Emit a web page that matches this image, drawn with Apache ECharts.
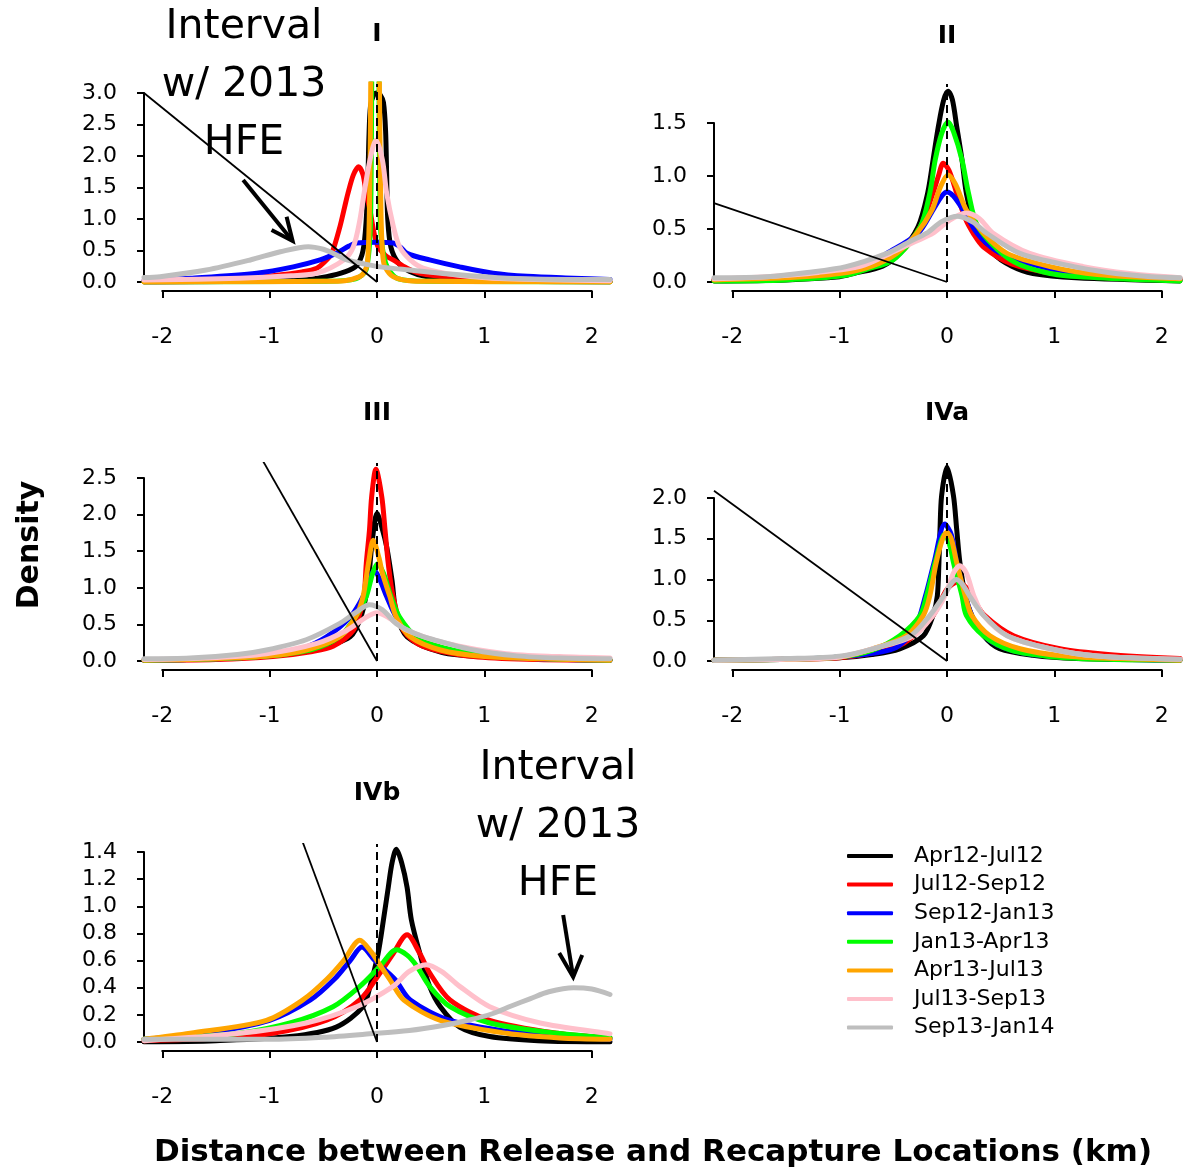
<!DOCTYPE html>
<html><head><meta charset="utf-8">
<script src="https://cdn.jsdelivr.net/npm/echarts@6/dist/echarts.min.js"></script>
<style>html,body{margin:0;padding:0;background:#fff}#c{width:1189px;height:1173px}</style>
</head><body><div id="c"></div>
<script>
const periods = ['Apr12-Jul12','Jul12-Sep12','Sep12-Jan13','Jan13-Apr13','Apr13-Jul13','Jul13-Sep13','Sep13-Jan14'];
const colors  = ['#000000','#FF0000','#0000FF','#00FF00','#FFA500','#FFC0CB','#BEBEBE'];
const xTicks = [-2,-1,0,1,2];
const panelTitles = ['I','II','III','IVa','IVb'];
const xLabel = 'Distance between Release and Recapture Locations (km)';
const yLabel = 'Density';
const noteText = 'Interval\nw/ 2013\nHFE';

// ---- Panel I ----
const I_black = [[-2.17,0],[-1.2,0.01],[-0.7,0.03],[-0.47,0.085],[-0.3,0.16],[-0.19,0.26],[-0.13,0.5],[-0.1,1.0],[-0.085,1.6],[-0.075,2.3],[-0.06,2.8],[-0.03,2.97],[0,3.0],[0.03,2.97],[0.06,2.85],[0.08,2.4],[0.09,1.7],[0.1,1.0],[0.13,0.55],[0.2,0.3],[0.3,0.17],[0.46,0.085],[0.8,0.03],[1.3,0.01],[2.17,0]];
const I_red = [[-2.17,0],[-1.5,0.02],[-0.97,0.1],[-0.7,0.16],[-0.56,0.22],[-0.47,0.35],[-0.42,0.46],[-0.345,0.88],[-0.3,1.2],[-0.27,1.41],[-0.22,1.7],[-0.17,1.83],[-0.13,1.7],[-0.1,1.4],[-0.065,1.14],[-0.03,0.8],[0.01,0.56],[0.08,0.42],[0.15,0.35],[0.28,0.22],[0.4,0.14],[0.7,0.07],[1.0,0.04],[1.5,0.015],[2.17,0.005]];
const I_blue = [[-2.17,0.02],[-1.74,0.06],[-1.12,0.14],[-0.78,0.24],[-0.53,0.35],[-0.38,0.455],[-0.26,0.57],[-0.19,0.62],[0,0.63],[0.15,0.62],[0.22,0.55],[0.28,0.455],[0.49,0.35],[0.77,0.24],[1.08,0.14],[1.4,0.09],[1.83,0.06],[2.17,0.04]];
const I_green = [[-2.17,0],[-0.5,0.01],[-0.2,0.05],[-0.1,0.2],[-0.06,1],[-0.045,5],[-0.015,10],[0.015,5],[0.03,1],[0.08,0.3],[0.2,0.05],[0.5,0.01],[2.17,0]];
const I_orange = [[-2.17,0],[-1,0.005],[-0.5,0.01],[-0.3,0.02],[-0.16,0.085],[-0.12,0.15],[-0.09,0.3],[-0.075,0.8],[-0.065,1.8],[-0.058,3.2],[-0.045,6],[-0.015,12],[0.015,6],[0.022,3.2],[0.03,1.9],[0.04,0.9],[0.055,0.4],[0.075,0.24],[0.15,0.085],[0.3,0.02],[0.5,0.01],[1,0.005],[2.17,0]];
const I_pink = [[-2.17,0.03],[-1.28,0.06],[-0.8,0.1],[-0.56,0.14],[-0.31,0.35],[-0.22,0.56],[-0.16,0.98],[-0.12,1.41],[-0.065,1.94],[-0.01,2.25],[0.05,1.94],[0.09,1.41],[0.15,0.9],[0.21,0.56],[0.31,0.35],[0.43,0.22],[0.74,0.11],[1.2,0.05],[2.17,0.02]];
const I_grey = [[-2.17,0.07],[-2.02,0.085],[-1.59,0.19],[-1.18,0.35],[-0.9,0.48],[-0.64,0.56],[-0.5,0.52],[-0.41,0.455],[-0.28,0.35],[-0.1,0.28],[0.03,0.24],[0.3,0.19],[0.59,0.14],[1.21,0.06],[2,0.04],[2.17,0.04]];
const I_diag = [[-2.17,3.0],[0,0]];
const I_arrowShaft = [[-1.247,1.619],[-0.786,0.651]];
const I_arrowHead = [[-0.982,0.825],[-0.786,0.651],[-0.842,1.037]];

// ---- Panel II ----
const II_black = [[-2.17,0.01],[-1.5,0.02],[-1,0.05],[-0.87,0.08],[-0.6,0.15],[-0.44,0.27],[-0.27,0.52],[-0.18,0.84],[-0.13,1.15],[-0.08,1.47],[-0.03,1.72],[0.01,1.8],[0.05,1.72],[0.09,1.47],[0.14,1.15],[0.18,0.84],[0.26,0.52],[0.43,0.27],[0.6,0.15],[0.8,0.08],[1.2,0.04],[2.17,0.01]];
const II_red = [[-2.17,0.02],[-1.5,0.04],[-1,0.08],[-0.7,0.15],[-0.44,0.27],[-0.25,0.52],[-0.13,0.84],[-0.08,1.0],[-0.035,1.12],[0.02,1.05],[0.09,0.84],[0.17,0.6],[0.25,0.45],[0.34,0.33],[0.6,0.17],[1,0.08],[1.5,0.04],[2.17,0.02]];
const II_blue = [[-2.17,0.02],[-1.5,0.05],[-1,0.1],[-0.75,0.16],[-0.56,0.27],[-0.27,0.46],[-0.13,0.68],[-0.05,0.81],[0,0.85],[0.06,0.81],[0.15,0.68],[0.28,0.46],[0.45,0.3],[0.65,0.21],[1.05,0.11],[1.5,0.06],[2.17,0.03]];
const II_green = [[-2.17,0.01],[-1.5,0.02],[-0.96,0.06],[-0.75,0.12],[-0.5,0.21],[-0.25,0.52],[-0.16,0.84],[-0.11,1.15],[-0.05,1.4],[0.01,1.51],[0.06,1.42],[0.14,1.15],[0.2,0.84],[0.29,0.52],[0.59,0.21],[0.96,0.08],[1.4,0.04],[2.17,0.01]];
const II_orange = [[-2.17,0.02],[-1.5,0.04],[-1,0.08],[-0.7,0.15],[-0.47,0.27],[-0.28,0.46],[-0.14,0.68],[-0.06,0.9],[0.01,1.01],[0.08,0.92],[0.18,0.68],[0.34,0.46],[0.56,0.27],[0.96,0.145],[1.4,0.07],[2.17,0.03]];
const II_pink = [[-2.17,0.03],[-1.68,0.05],[-1.2,0.09],[-0.8,0.15],[-0.53,0.27],[-0.3,0.38],[-0.13,0.46],[0.02,0.58],[0.18,0.65],[0.3,0.6],[0.43,0.46],[0.77,0.27],[1.27,0.145],[1.7,0.08],[2.17,0.04]];
const II_grey = [[-2.17,0.04],[-1.68,0.05],[-1.3,0.09],[-0.94,0.145],[-0.56,0.27],[-0.35,0.38],[-0.19,0.46],[-0.05,0.57],[0.1,0.62],[0.25,0.56],[0.37,0.46],[0.68,0.27],[1.18,0.145],[1.5,0.09],[1.9,0.05],[2.17,0.04]];
const II_diag = [[-2.17,0.745],[0,0]];

// ---- Panel III ----
const III_black = [[-2.17,0.01],[-1.5,0.03],[-1,0.07],[-0.6,0.15],[-0.25,0.33],[-0.14,0.65],[-0.08,1.1],[-0.05,1.56],[0,2.02],[0.05,1.8],[0.09,1.56],[0.14,1.1],[0.18,0.65],[0.28,0.33],[0.6,0.12],[1,0.06],[2.17,0.01]];
const III_red = [[-2.17,0.01],[-1.5,0.02],[-0.97,0.06],[-0.6,0.13],[-0.41,0.2],[-0.22,0.42],[-0.15,0.7],[-0.12,0.88],[-0.1,1.33],[-0.07,1.79],[-0.05,2.24],[-0.01,2.62],[0.045,2.24],[0.075,1.79],[0.105,1.33],[0.15,0.88],[0.245,0.42],[0.43,0.2],[0.9,0.06],[1.5,0.02],[2.17,0.01]];
const III_blue = [[-2.17,0.01],[-1.5,0.03],[-1,0.08],[-0.7,0.17],[-0.47,0.33],[-0.25,0.6],[-0.13,0.88],[-0.06,1.15],[-0.025,1.24],[0.03,1.1],[0.09,0.88],[0.18,0.6],[0.34,0.33],[0.6,0.16],[1,0.07],[1.5,0.03],[2.17,0.01]];
const III_green = [[-2.17,0.01],[-1.5,0.03],[-1,0.07],[-0.6,0.16],[-0.35,0.33],[-0.2,0.6],[-0.1,0.88],[-0.04,1.2],[0.005,1.33],[0.06,1.2],[0.13,0.88],[0.21,0.6],[0.37,0.33],[0.7,0.15],[1.1,0.07],[1.6,0.03],[2.17,0.01]];
const III_orange = [[-2.17,0.01],[-1.5,0.03],[-1,0.07],[-0.66,0.15],[-0.35,0.33],[-0.2,0.6],[-0.13,0.88],[-0.08,1.33],[-0.035,1.65],[0.02,1.4],[0.05,1.2],[0.12,0.88],[0.18,0.6],[0.31,0.33],[0.59,0.15],[1,0.06],[1.5,0.03],[2.17,0.01]];
const III_pink = [[-2.17,0.02],[-1.6,0.04],[-1.03,0.1],[-0.56,0.24],[-0.28,0.42],[-0.1,0.6],[0,0.66],[0.1,0.6],[0.28,0.42],[0.65,0.24],[1.2,0.1],[1.7,0.06],[2.17,0.04]];
const III_grey = [[-2.17,0.03],[-1.74,0.04],[-1.3,0.09],[-1.03,0.15],[-0.66,0.29],[-0.35,0.51],[-0.2,0.66],[-0.07,0.77],[0.05,0.7],[0.18,0.51],[0.35,0.38],[0.53,0.29],[0.9,0.15],[1.3,0.07],[1.7,0.04],[2.17,0.03]];
const III_diag = [[-1.061,2.73],[0,0]];

// ---- Panel IVa ----
const IVa_black = [[-2.17,0.01],[-1.5,0.02],[-1,0.04],[-0.7,0.08],[-0.44,0.15],[-0.22,0.31],[-0.13,0.56],[-0.09,0.8],[-0.075,1.21],[-0.065,1.62],[-0.05,2.03],[0,2.38],[0.06,2.03],[0.09,1.62],[0.12,1.21],[0.17,0.8],[0.23,0.56],[0.34,0.31],[0.49,0.15],[0.8,0.07],[1.2,0.03],[2.17,0.01]];
const IVa_red = [[-2.17,0.01],[-1.5,0.02],[-1,0.04],[-0.69,0.1],[-0.4,0.22],[-0.13,0.56],[0,0.88],[0.1,0.97],[0.18,0.9],[0.25,0.75],[0.35,0.56],[0.62,0.31],[1.05,0.15],[1.5,0.08],[2.17,0.03]];
const IVa_blue = [[-2.17,0.01],[-1.5,0.02],[-1,0.05],[-0.5,0.15],[-0.3,0.4],[-0.2,0.8],[-0.12,1.21],[-0.02,1.68],[0.04,1.55],[0.09,1.21],[0.17,0.8],[0.25,0.5],[0.4,0.25],[0.7,0.1],[1.2,0.04],[2.17,0.01]];
const IVa_green = [[-2.17,0.01],[-1.5,0.02],[-1,0.05],[-0.7,0.13],[-0.44,0.31],[-0.25,0.56],[-0.19,0.8],[-0.11,1.21],[-0.02,1.56],[0.03,1.4],[0.06,1.21],[0.14,0.8],[0.18,0.56],[0.34,0.31],[0.6,0.13],[1.0,0.05],[1.5,0.02],[2.17,0.01]];
const IVa_orange = [[-2.17,0.01],[-1.5,0.02],[-1,0.05],[-0.69,0.15],[-0.38,0.31],[-0.22,0.56],[-0.16,0.8],[-0.1,1.21],[-0.04,1.5],[0,1.58],[0.04,1.5],[0.09,1.21],[0.17,0.8],[0.23,0.56],[0.4,0.31],[0.68,0.15],[1.1,0.06],[1.6,0.03],[2.17,0.01]];
const IVa_pink = [[-2.17,0.01],[-1.5,0.02],[-1,0.05],[-0.69,0.15],[-0.31,0.31],[-0.13,0.56],[-0.02,0.8],[0.06,1.08],[0.12,1.17],[0.18,1.08],[0.25,0.8],[0.34,0.56],[0.56,0.31],[0.96,0.15],[1.4,0.06],[2.17,0.02]];
const IVa_grey = [[-2.17,0.01],[-1.5,0.03],[-1,0.06],[-0.69,0.15],[-0.34,0.31],[-0.16,0.56],[-0.03,0.8],[0.04,0.95],[0.09,1.0],[0.15,0.93],[0.21,0.8],[0.34,0.56],[0.56,0.31],[0.96,0.15],[1.4,0.06],[2.17,0.02]];
const IVa_diag = [[-2.17,2.09],[0,0]];

// ---- Panel IVb ----
const IVb_black = [[-2.17,0],[-1.5,0.01],[-0.81,0.04],[-0.38,0.11],[-0.13,0.26],[-0.065,0.41],[0.01,0.65],[0.06,0.9],[0.105,1.14],[0.14,1.32],[0.18,1.42],[0.23,1.32],[0.28,1.14],[0.32,0.9],[0.4,0.65],[0.49,0.41],[0.59,0.26],[0.77,0.11],[1.05,0.04],[1.5,0.01],[2.17,0]];
const IVb_red = [[-2.17,0.01],[-1.5,0.03],[-0.97,0.064],[-0.47,0.16],[-0.16,0.31],[0.03,0.51],[0.15,0.65],[0.28,0.79],[0.4,0.65],[0.49,0.51],[0.68,0.31],[1.05,0.16],[1.68,0.064],[2.17,0.03]];
const IVb_blue = [[-2.17,0.02],[-1.6,0.064],[-1.0,0.16],[-0.62,0.31],[-0.4,0.46],[-0.25,0.6],[-0.14,0.7],[-0.02,0.6],[0.17,0.46],[0.31,0.31],[0.68,0.16],[1.37,0.064],[2.17,0.02]];
const IVb_green = [[-2.17,0.02],[-1.7,0.04],[-1.28,0.064],[-0.81,0.14],[-0.41,0.26],[-0.16,0.41],[0.03,0.56],[0.18,0.68],[0.28,0.64],[0.37,0.56],[0.49,0.41],[0.68,0.26],[1.05,0.14],[1.68,0.064],[2.17,0.03]];
const IVb_orange = [[-2.17,0.02],[-1.74,0.064],[-1.03,0.16],[-0.69,0.31],[-0.47,0.46],[-0.31,0.6],[-0.16,0.75],[-0.05,0.66],[0,0.6],[0.12,0.46],[0.25,0.31],[0.59,0.16],[1.21,0.064],[1.7,0.03],[2.17,0.02]];
const IVb_pink = [[-2.17,0.01],[-1.28,0.064],[-0.66,0.14],[-0.19,0.26],[0.15,0.41],[0.3,0.52],[0.46,0.57],[0.6,0.52],[0.77,0.41],[1.05,0.26],[1.52,0.14],[2.14,0.064],[2.17,0.06]];
const IVb_grey = [[-2.17,0.02],[-1.0,0.02],[-0.5,0.035],[-0.07,0.06],[0.3,0.085],[0.6,0.12],[0.85,0.16],[1.08,0.21],[1.25,0.265],[1.43,0.32],[1.6,0.37],[1.83,0.4],[2.0,0.39],[2.17,0.35]];
const IVb_diag = [[-0.70,1.49],[0,0]];
const IVb_arrowShaft = [[1.734,0.936],[1.827,0.479]];
const IVb_arrowHead = [[1.697,0.656],[1.827,0.479],[1.911,0.641]];

const FONT = 'DejaVu Sans';
const XMIN = -2.17, XMAX = 2.17;

const panels = [
  {L:144, T:84,  B:282,  W:466, ymax:3.143, yTop:3.0, yInt:0.5, curves:[I_black,I_red,I_blue,I_green,I_orange,I_pink,I_grey], diag:I_diag, shaft:I_arrowShaft, head:I_arrowHead},
  {L:714, T:84,  B:282,  W:466, ymax:1.868, yTop:1.5, yInt:0.5, curves:[II_black,II_red,II_blue,II_green,II_orange,II_pink,II_grey], diag:II_diag},
  {L:144, T:463, B:661,  W:466, ymax:2.705, yTop:2.5, yInt:0.5, curves:[III_black,III_red,III_blue,III_green,III_orange,III_pink,III_grey], diag:III_diag},
  {L:714, T:463, B:661,  W:466, ymax:2.43,  yTop:2.0, yInt:0.5, curves:[IVa_black,IVa_red,IVa_blue,IVa_green,IVa_orange,IVa_pink,IVa_grey], diag:IVa_diag},
  {L:144, T:844, B:1042, W:466, ymax:1.459, yTop:1.4, yInt:0.2, curves:[IVb_black,IVb_red,IVb_blue,IVb_green,IVb_orange,IVb_pink,IVb_grey], diag:IVb_diag, shaft:IVb_arrowShaft, head:IVb_arrowHead}
];

const grid = [], xAxis = [], yAxis = [], series = [];
const blackLine = {color:'#000', width:2};
panels.forEach((p, k) => {
  const H = p.B - p.T;
  const ppx = p.W / (XMAX - XMIN);
  const yH = p.yTop * H / p.ymax;
  grid.push({left:p.L, top:p.T, width:p.W, height:H});
  xAxis.push({gridIndex:3*k, type:'value', min:XMIN, max:XMAX, show:false});
  yAxis.push({gridIndex:3*k, type:'value', min:0, max:p.ymax, show:false});
  grid.push({left:p.L, top:p.B - yH, width:1, height:yH});
  xAxis.push({gridIndex:3*k+1, type:'value', min:0, max:1, show:false});
  yAxis.push({gridIndex:3*k+1, type:'value', min:0, max:p.yTop, interval:p.yInt,
    axisLine:{show:true, lineStyle:blackLine}, axisTick:{show:true, length:7, lineStyle:blackLine},
    splitLine:{show:false},
    axisLabel:{show:true, color:'#000', fontFamily:FONT, fontSize:22, margin:27, formatter:v=>v.toFixed(1)}});
  grid.push({left:p.L + (-2 - XMIN)*ppx, top:p.B + 8, width:4*ppx, height:1});
  xAxis.push({gridIndex:3*k+2, type:'value', min:xTicks[0], max:xTicks[xTicks.length-1], interval:1, position:'bottom',
    axisLine:{show:true, onZero:false, lineStyle:blackLine}, axisTick:{show:true, length:7, lineStyle:blackLine},
    splitLine:{show:false},
    axisLabel:{show:true, color:'#000', fontFamily:FONT, fontSize:22, margin:35}});
  yAxis.push({gridIndex:3*k+2, type:'value', min:0, max:1, show:false});

  p.curves.forEach((d, i) => {
    series.push({type:'line', name:periods[i], xAxisIndex:3*k, yAxisIndex:3*k, data:d,
      showSymbol:false, symbol:'none', smooth:0.3, clip:true, animation:false, z:2+i*0.01,
      color:colors[i], lineStyle:{color:colors[i], width:5, cap:'round', join:'round'}});
  });
  series.push({type:'line', name:'diag'+k, xAxisIndex:3*k, yAxisIndex:3*k, data:p.diag,
    showSymbol:false, symbol:'none', clip:true, animation:false, z:5, silent:true,
    lineStyle:{color:'#000', width:1.8},
    markLine:{silent:true, symbol:'none', label:{show:false}, animation:false,
      lineStyle:{color:'#000', width:2, type:[8,5]}, data:[{xAxis:0}]}});
  if (p.shaft) {
    [p.shaft, p.head].forEach((d, j) => series.push({type:'line', name:'arrow'+k+'_'+j, xAxisIndex:3*k, yAxisIndex:3*k, data:d,
      showSymbol:false, symbol:'none', clip:false, animation:false, z:6, silent:true,
      lineStyle:{color:'#000', width:4, cap:'butt', join:'miter'}}));
  }
});

const titlePos = [[377,34],[947,36],[377,413],[947,413],[377,793]];
const graphic = [];
panelTitles.forEach((t, i) => graphic.push({type:'text', x:titlePos[i][0], y:titlePos[i][1],
  style:{text:t, font:'bold 25px "DejaVu Sans"', fill:'#000', textAlign:'center', textVerticalAlign:'middle'}}));
[[244,85],[558,826]].forEach(pt => graphic.push({type:'text', x:pt[0], y:pt[1],
  style:{text:noteText, font:'41px "DejaVu Sans"', lineHeight:58, fill:'#000', textAlign:'center', textVerticalAlign:'middle'}}));
graphic.push({type:'text', x:30, y:545, rotation:Math.PI/2,
  style:{text:yLabel, font:'bold 30px "DejaVu Sans"', fill:'#000', textAlign:'center', textVerticalAlign:'middle'}});
graphic.push({type:'text', x:653, y:1153,
  style:{text:xLabel, font:'bold 31px "DejaVu Sans"', fill:'#000', textAlign:'center', textVerticalAlign:'middle'}});

const chart = echarts.init(document.getElementById('c'), null, {renderer:'canvas'});
chart.setOption({
  animation:false,
  backgroundColor:'#fff',
  grid, xAxis, yAxis, series, graphic,
  legend:{data:periods, orient:'vertical', left:847, top:845, padding:0, icon:'roundRect', itemWidth:46, itemHeight:4,
    itemGap:6.6, selectedMode:false,
    textStyle:{fontFamily:FONT, fontSize:22, lineHeight:22, color:'#000', padding:[0,0,0,16]}}
});
</script></body></html>
